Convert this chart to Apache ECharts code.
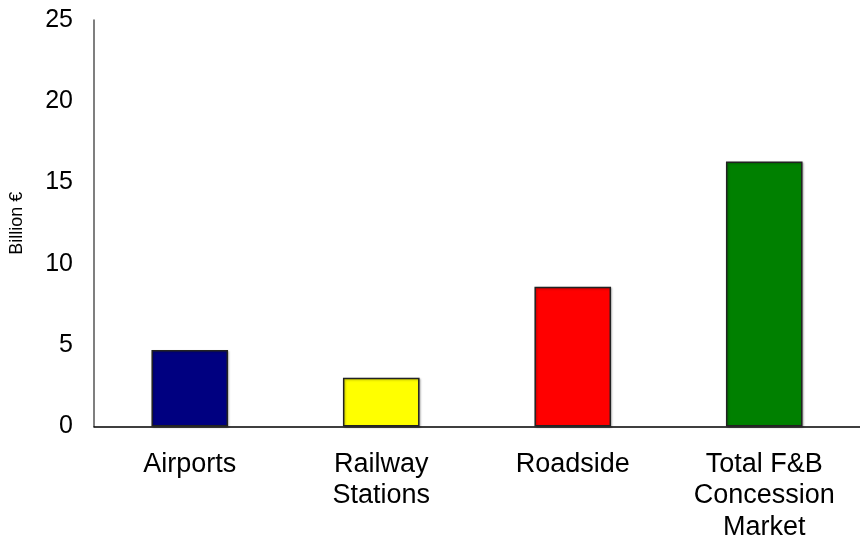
<!DOCTYPE html>
<html>
<head>
<meta charset="utf-8">
<style>
  html, body { margin: 0; padding: 0; background: #fff; }
  #chart { width: 860px; height: 543px; }
</style>
<script src="https://cdn.jsdelivr.net/npm/echarts@6/dist/echarts.min.js"></script>
</head>
<body>
<div id="chart"></div>
<script>
// F&B concession market size by channel (billion euro)
const categories = ['Airports', 'Railway\nStations', 'Roadside', 'Total F&B\nConcession\nMarket'];
const values = [4.7, 3.0, 8.6, 16.3];
const barColors = ['#000080', '#ffff00', '#ff0000', '#008000'];
const yTicks = { min: 0, max: 25, interval: 5 };

const chart = echarts.init(document.getElementById('chart'), null, { renderer: 'canvas' });

chart.setOption({
  animation: false,
  backgroundColor: '#ffffff',
  grid: { left: 93, top: 20, width: 775, height: 412, containLabel: false },
  xAxis: {
    type: 'category',
    data: categories,
    axisLine: { show: true, lineStyle: { color: '#000', width: 1.5 } },
    axisTick: { show: false },
    axisLabel: {
      color: '#000',
      fontFamily: 'Liberation Sans, Arial, sans-serif',
      fontSize: 27,
      lineHeight: 31.5,
      margin: 22,
      interval: 0
    },
    splitLine: { show: false }
  },
  yAxis: {
    type: 'value',
    min: yTicks.min,
    max: yTicks.max,
    interval: yTicks.interval,
    name: 'Billion €',
    nameLocation: 'middle',
    nameGap: 68,
    nameTextStyle: { color: '#000', fontFamily: 'Liberation Sans, Arial, sans-serif', fontSize: 18 },
    axisLine: { show: true, lineStyle: { color: '#555', width: 1.5 } },
    axisTick: { show: false },
    axisLabel: {
      color: '#000',
      fontFamily: 'Liberation Sans, Arial, sans-serif',
      fontSize: 25,
      margin: 21
    },
    splitLine: { show: false }
  },
  series: [{
    type: 'bar',
    data: values.map((v, i) => ({
      value: v,
      itemStyle: { color: barColors[i] }
    })),
    barWidth: '40%',
    itemStyle: {
      borderColor: '#222',
      borderWidth: 1.5,
      shadowColor: 'rgba(0,0,0,0.25)',
      shadowBlur: 2,
      shadowOffsetX: 1,
      shadowOffsetY: 1
    }
  }]
});
</script>
</body>
</html>
